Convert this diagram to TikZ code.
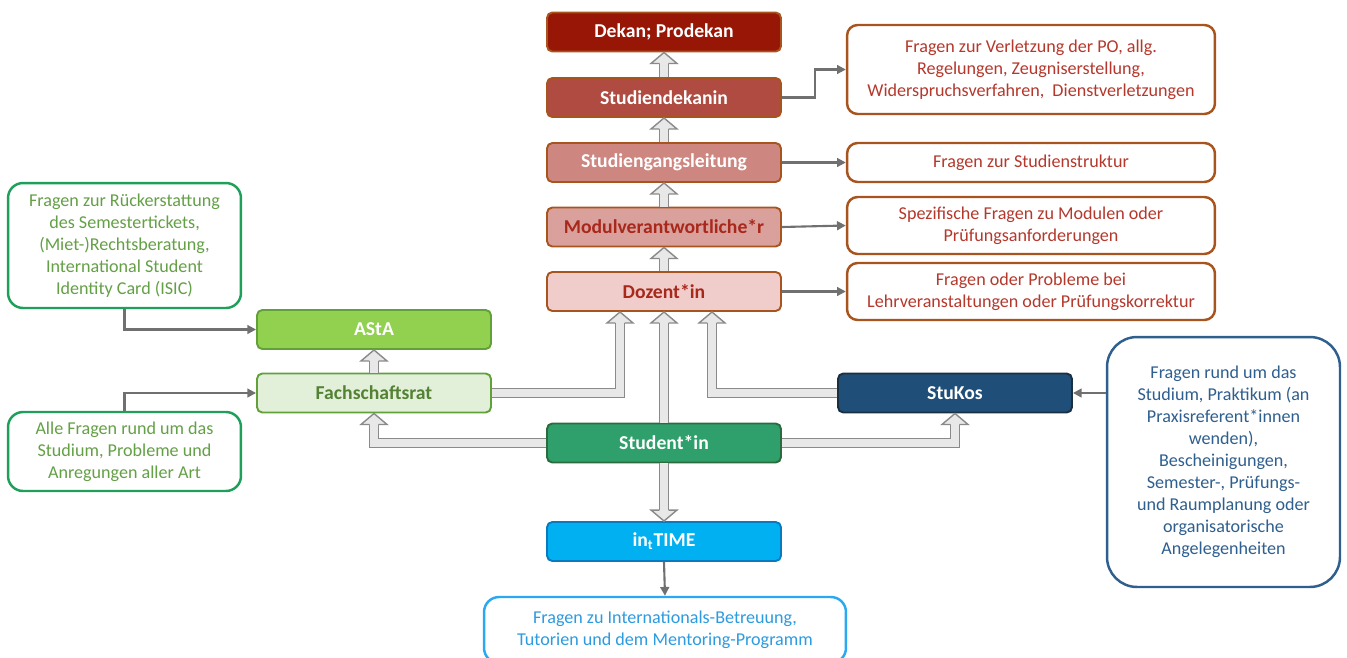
\documentclass[tikz,border=0pt]{standalone}
\usepackage{fontspec}
\setmainfont{Carlito}
\usetikzlibrary{arrows.meta}

\definecolor{dekanred}{HTML}{981606}
\definecolor{sdekred}{HTML}{AF4B41}
\definecolor{sglred}{HTML}{CD8780}
\definecolor{modred}{HTML}{DAA09B}
\definecolor{dozred}{HTML}{F0CDCA}
\definecolor{redline}{HTML}{A8541E}
\definecolor{redtext}{HTML}{A8281C}
\definecolor{notered}{HTML}{B5382C}
\definecolor{astagreen}{HTML}{92D050}
\definecolor{fsrgreen}{HTML}{E2F0D9}
\definecolor{greenline}{HTML}{62A03A}
\definecolor{greentext}{HTML}{548235}
\definecolor{notegreen}{HTML}{1FA05A}
\definecolor{notegreentext}{HTML}{64A046}
\definecolor{studgreen}{HTML}{2FA06B}
\definecolor{studline}{HTML}{2B6B3E}
\definecolor{stukosblue}{HTML}{1F4E79}
\definecolor{stukosline}{HTML}{1B2F42}
\definecolor{noteblue}{HTML}{2F5F8F}
\definecolor{notebluetext}{HTML}{2E5A88}
\definecolor{timeblue}{HTML}{00B0F0}
\definecolor{timeline}{HTML}{0A7ABF}
\definecolor{notecyan}{HTML}{2AA8F2}
\definecolor{notecyantext}{HTML}{2C9BE0}
\definecolor{arrgray}{HTML}{707070}
\definecolor{blkgray}{HTML}{8A8A8A}
\definecolor{blkfill}{HTML}{E8E8E8}

\tikzset{
  box/.style={rectangle, rounded corners=3pt, minimum width=4.68cm, minimum height=0.78cm,
    line width=1.1pt, text=white, font=\fontsize{11.2}{13}\selectfont\bfseries},
  note/.style={rectangle, align=center, line width=1.4pt, fill=white, inner sep=3pt,
    font=\fontsize{10.3}{12.5}\selectfont},
  rednote/.style={note, draw=redline, text=notered, rounded corners=6pt, minimum width=7.36cm},
  tarrow/.style={draw=arrgray, line width=1.2pt, -{Triangle[length=5pt,width=5pt]}},
  blkshaft/.style={draw=blkgray, line width=0.8pt, double=blkfill, double distance=0.16cm},
  blkedge/.style={draw=blkgray, line width=0.8pt, line join=miter},
}

% hollow block arrow heads, #1 = tip
\newcommand{\tipup}[1]{%
  \fill[blkfill] (#1) -- ++(13,11) -- ++(-26,0) -- cycle;
  \draw[blkedge] (#1) ++(-4.7,11) -- ++(-8.3,0) -- (#1) -- ++(13,11) -- ++(-8.3,0);
}
\newcommand{\tipdown}[1]{%
  \fill[blkfill] (#1) -- ++(13,-11) -- ++(-26,0) -- cycle;
  \draw[blkedge] (#1) ++(-4.7,-11) -- ++(-8.3,0) -- (#1) -- ++(13,-11) -- ++(-8.3,0);
}

\begin{document}
\begin{tikzpicture}[x=0.02cm, y=-0.02cm]
  \useasboundingbox (0,0) rectangle (1347,657);
  \clip (0,0) rectangle (1347,657);

  % middle column
  \node[box, fill=dekanred, draw=redline] (dekan) at (664,32) {Dekan; Prodekan};
  \node[box, fill=sdekred, draw=redline] (stdekan) at (664,97.5) {Studiendekanin};
  \node[box, fill=sglred, draw=redline] (sgl) at (664,162.5) {Studiengangsleitung};
  \node[box, fill=modred, draw=redline, text=redtext] (modul) at (664,227) {Modulverantwortliche*r};
  \node[box, fill=dozred, draw=redline, text=redtext] (dozent) at (664,291.5) {Dozent*in};
  \node[box, fill=studgreen, draw=studline] (student) at (664,443) {Student*in};
  \node[box, fill=timeblue, draw=timeline] (intime) at (664,541.5) {in\textsubscript{t}TIME};

  % left and right
  \node[box, fill=astagreen, draw=greenline] (asta) at (374,329.5) {AStA};
  \node[box, fill=fsrgreen, draw=greenline, text=greentext] (fsr) at (374,393) {Fachschaftsrat};
  \node[box, fill=stukosblue, draw=stukosline] (stukos) at (955,393) {StuKos};

  % question boxes
  \node[rednote, minimum height=1.78cm] (qdekan) at (1031,69.5)
    {Fragen zur Verletzung der PO, allg.\\ Regelungen, Zeugniserstellung,\\ Widerspruchsverfahren,\ \ Dienstverletzungen};
  \node[rednote, minimum height=0.78cm] (qsgl) at (1031,162.5) {Fragen zur Studienstruktur};
  \node[rednote, minimum height=1.14cm] (qmodul) at (1031,225.5)
    {Spezifische Fragen zu Modulen oder\\ Prüfungsanforderungen};
  \node[rednote, minimum height=1.14cm] (qdozent) at (1031,291.5)
    {Fragen oder Probleme bei\\ Lehrveranstaltungen oder Prüfungskorrektur};
  \node[note, draw=notegreen, text=notegreentext, rounded corners=0.3cm,
    minimum width=4.66cm, minimum height=2.5cm] (qasta) at (124.5,245.5)
    {Fragen zur Rückerstattung\\ des Semestertickets,\\ (Miet-)Rechtsberatung,\\ International Student\\ Identity Card (ISIC)};
  \node[note, draw=notegreen, text=notegreentext, rounded corners=0.3cm,
    minimum width=4.66cm, minimum height=1.58cm] (qfsr) at (124.5,451.5)
    {Alle Fragen rund um das\\ Studium, Probleme und\\ Anregungen aller Art};
  \node[note, draw=noteblue, text=noteblue, rounded corners=0.6cm,
    minimum width=4.66cm, minimum height=5cm] (qstukos) at (1223.5,462)
    {Fragen rund um das\\ Studium, Praktikum (an\\ Praxisreferent*innen\\ wenden),\\ Bescheinigungen,\\ Semester-, Prüfungs-\\ und Raumplanung oder\\ organisatorische\\ Angelegenheiten};
  \node[note, draw=notecyan, text=notecyantext, rounded corners=0.3cm,
    minimum width=7.24cm, minimum height=1.32cm] (qintime) at (665,630)
    {Fragen zu Internationals-Betreuung,\\ Tutorien und dem Mentoring-Programm};

  % thin arrows
  \draw[tarrow] (stdekan.east) -- ++(33,0) |- (qdekan.west);
  \draw[tarrow] (sgl.east) -- (qsgl.west);
  \draw[tarrow] (modul.east) -- (qmodul.west);
  \draw[tarrow] (dozent.east) -- (qdozent.west);
  \draw[tarrow] (qasta.south) |- (asta.west);
  \draw[tarrow] (qfsr.north) |- (fsr.west);
  \draw[tarrow] (qstukos.west |- stukos.east) -- (stukos.east);
  \draw[tarrow] (intime.south) -- (qintime.north);

  % block arrows
  \draw[blkshaft] (stdekan.north) -- ([yshift=-0.22cm]dekan.south);
  \tipup{dekan.south}
  \draw[blkshaft] (sgl.north) -- ([yshift=-0.22cm]stdekan.south);
  \tipup{stdekan.south}
  \draw[blkshaft] (modul.north) -- ([yshift=-0.22cm]sgl.south);
  \tipup{sgl.south}
  \draw[blkshaft] (dozent.north) -- ([yshift=-0.22cm]modul.south);
  \tipup{modul.south}
  \draw[blkshaft] (fsr.north) -- ([yshift=-0.22cm]asta.south);
  \tipup{asta.south}
  \draw[blkshaft] (student.north) -- ([yshift=-0.22cm]dozent.south);
  \tipup{dozent.south}
  \draw[blkshaft] (fsr.east) -| ([xshift=-0.88cm,yshift=-0.22cm]dozent.south);
  \tipup{[xshift=-0.88cm]dozent.south}
  \draw[blkshaft] (stukos.west) -| ([xshift=0.96cm,yshift=-0.22cm]dozent.south);
  \tipup{[xshift=0.96cm]dozent.south}
  \draw[blkshaft] (student.west) -| ([yshift=-0.22cm]fsr.south);
  \tipup{fsr.south}
  \draw[blkshaft] (student.east) -| ([yshift=-0.22cm]stukos.south);
  \tipup{stukos.south}
  \draw[blkshaft] (student.south) -- ([yshift=0.22cm]intime.north);
  \tipdown{intime.north}
\end{tikzpicture}
\end{document}
